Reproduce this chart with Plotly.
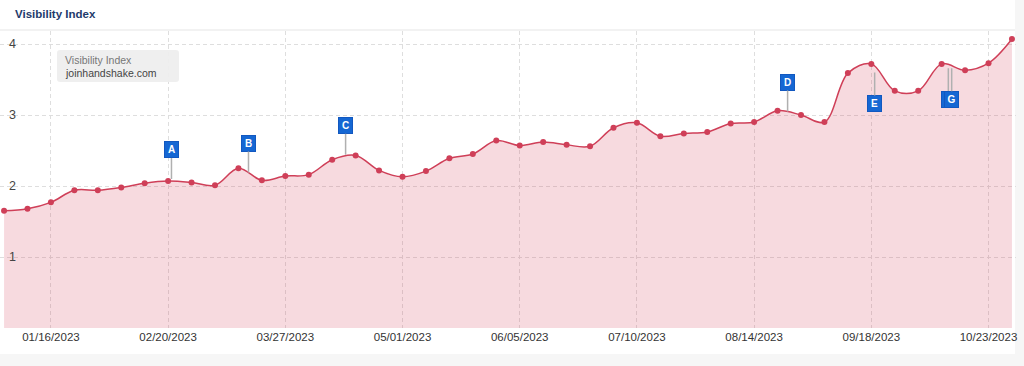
import pandas as pd
import plotly.graph_objects as go

# ---------------- data ----------------
start_date = "2023-01-02"
n_weeks = 44
dates = pd.date_range(start_date, periods=n_weeks, freq="7D")
visibility = [1.65, 1.68, 1.77, 1.94, 1.94, 1.98, 2.04, 2.07, 2.05, 2.01, 2.25,
              2.08, 2.14, 2.16, 2.37, 2.43, 2.22, 2.13, 2.21, 2.39, 2.45, 2.64,
              2.57, 2.62, 2.58, 2.56, 2.82, 2.89, 2.70, 2.74, 2.76, 2.88, 2.90,
              3.06, 3.00, 2.90, 3.59, 3.72, 3.34, 3.34, 3.72, 3.63, 3.73, 4.07]

flag_labels = ["A", "B", "C", "D", "F", "E", "G"]
flag_dates = ["2023-02-21", "2023-03-16", "2023-04-14", "2023-08-24",
              "2023-10-11", "2023-09-19", "2023-10-12"]
flag_values = [2.10, 2.19, 2.44, 3.05, 3.66, 3.60, 3.66]
flag_below = [False, False, False, False, True, True, True]

tick_start = "2023-01-16"
tick_step_days = 35
y_ticks = [1, 2, 3, 4]

title_text = "Visibility Index"
legend_line1 = "Visibility Index"
legend_line2 = "joinhandshake.com"

# ---------------- layout geometry ----------------
W, H = 1024, 366
ML, MR, MT, MB = 0, 8, 31, 38
PW, PH = W - ML - MR, H - MT - MB


def px_x(px):
    return (px - ML) / PW


def px_y(py):
    return (H - MB - py) / PH


LINE = "#cf3f58"
FILL = "rgba(214, 70, 95, 0.2)"
FONT = "Arial, 'Liberation Sans', sans-serif"
GRID = "#dedede"

fig = go.Figure()
fig.add_trace(go.Scatter(
    x=dates, y=visibility, mode="lines+markers",
    line=dict(color=LINE, width=1.5, shape="spline", smoothing=1),
    marker=dict(color=LINE, size=6),
    fill="tozeroy", fillcolor=FILL,
    hoverinfo="skip", showlegend=False,
))

x0 = pd.Timestamp(start_date) - pd.Timedelta(hours=29)
x1 = dates[-1] + pd.Timedelta(hours=29)

fig.update_xaxes(
    range=[x0, x1], tick0=tick_start, dtick=tick_step_days * 86400000,
    tickformat="%m/%d/%Y", showgrid=True, gridcolor=GRID, griddash="4px,3px",
    gridwidth=1, zeroline=False, showline=False, ticks="", automargin=False,
    tickfont=dict(family=FONT, size=11.5, color="#333"),
)
fig.update_yaxes(
    range=[0, PH / 71.0], tickvals=y_ticks, showgrid=True, gridcolor=GRID,
    griddash="4px,3px", gridwidth=1, zeroline=False, showline=False, ticks="",
    ticklabelposition="inside", ticklabelstandoff=6, automargin=False,
    tickfont=dict(family=FONT, size=12.5, color="#444"),
)

shapes = []
# card
shapes.append(dict(type="rect", xref="paper", yref="paper", layer="below",
                   x0=px_x(0), x1=px_x(1015), y0=px_y(354), y1=px_y(0),
                   fillcolor="white", line=dict(width=0)))
# header separator
shapes.append(dict(type="line", xref="paper", yref="paper", layer="above",
                   x0=px_x(0), x1=px_x(1015), y0=px_y(30), y1=px_y(30),
                   line=dict(color="#eeeeee", width=1.5)))


def rounded_rect(l, t, r, b, rad):
    xl, xr = px_x(l), px_x(r)
    yt, yb = px_y(t), px_y(b)
    rx = rad / PW
    ry = rad / PH
    return (f"M {xl+rx},{yt} L {xr-rx},{yt} Q {xr},{yt} {xr},{yt-ry} "
            f"L {xr},{yb+ry} Q {xr},{yb} {xr-rx},{yb} L {xl+rx},{yb} "
            f"Q {xl},{yb} {xl},{yb+ry} L {xl},{yt-ry} Q {xl},{yt} {xl+rx},{yt} Z")


shapes.append(dict(type="path", xref="paper", yref="paper", layer="above",
                   path=rounded_rect(57, 50, 179, 82, 3),
                   fillcolor="rgba(238,238,238,0.92)", line=dict(width=0)))

annotations = []
annotations.append(dict(xref="paper", yref="paper", x=px_x(13), y=px_y(14),
                        xanchor="left", yanchor="middle", showarrow=False,
                        text=f"<b>{title_text}</b>",
                        font=dict(family=FONT, size=11.5, color="#1e3a6b")))
annotations.append(dict(xref="paper", yref="paper", x=px_x(63), y=px_y(60),
                        xanchor="left", yanchor="middle", showarrow=False,
                        text=legend_line1,
                        font=dict(family=FONT, size=10.5, color="#777")))
annotations.append(dict(xref="paper", yref="paper", x=px_x(63), y=px_y(73),
                        xanchor="left", yanchor="middle", showarrow=False,
                        text=legend_line2,
                        font=dict(family=FONT, size=10.5, color="#444")))

for lab, d, v, below in zip(flag_labels, flag_dates, flag_values, flag_below):
    annotations.append(dict(
        x=pd.Timestamp(d), y=v, xref="x", yref="y",
        text=f"<b>{lab}</b>", showarrow=True, arrowhead=0, arrowwidth=1.5,
        arrowcolor="#b0b0b0", ax=0, ay=(31 if below else -29),
        bgcolor="#1567d3", bordercolor="#1258c0", borderwidth=1, borderpad=2,
        width=9, height=11, align="center", valign="middle",
        font=dict(family=FONT, size=10, color="white"),
    ))

fig.update_layout(
    width=W, height=H,
    margin=dict(l=ML, r=MR, t=MT, b=MB, pad=0, autoexpand=False),
    paper_bgcolor="#f6f6f6", plot_bgcolor="rgba(0,0,0,0)",
    shapes=shapes, annotations=annotations, showlegend=False,
    font=dict(family=FONT),
)

fig.write_html(
    "out.html",
    config={"displayModeBar": False},
    post_script=("document.body.style.margin='0';"
                 "document.body.style.padding='0';"
                 "document.body.style.overflow='hidden';"),
)
